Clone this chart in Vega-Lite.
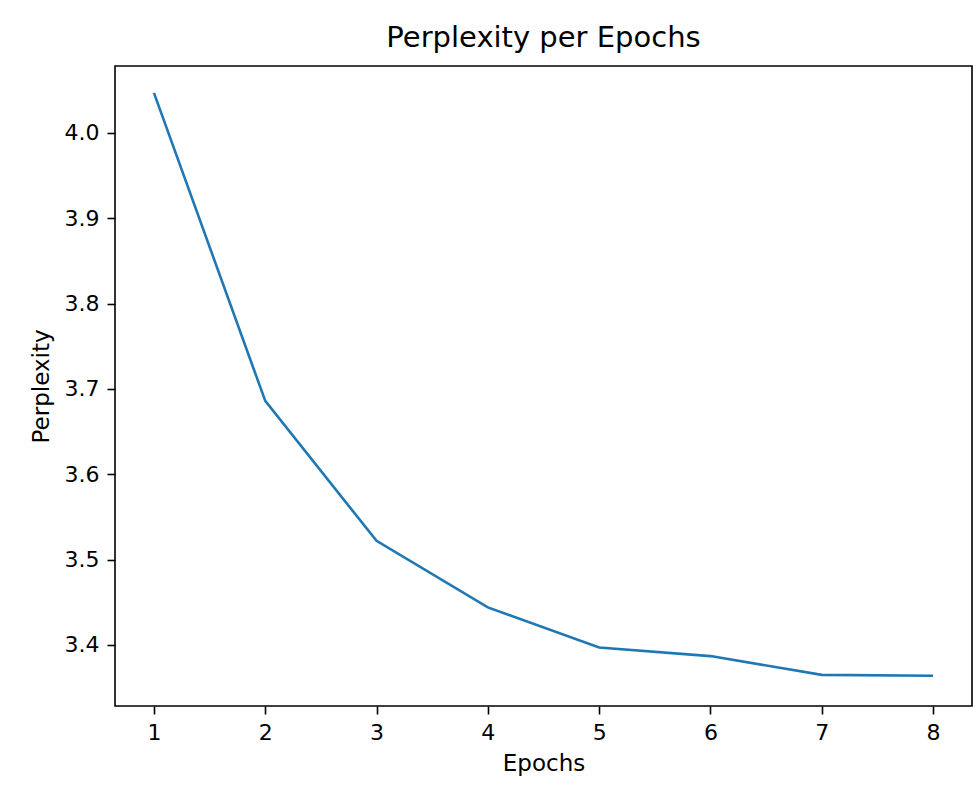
{
  "$schema": "https://vega.github.io/schema/vega-lite/v6.json",
  "autosize": "none",
  "width": 857,
  "height": 640,
  "padding": {"left": 115, "top": 66, "right": 5, "bottom": 85},
  "background": "white",
  "title": {
    "text": "Perplexity per Epochs",
    "font": "DejaVu Sans",
    "fontSize": 29,
    "fontWeight": "normal",
    "color": "#000000",
    "anchor": "middle",
    "baseline": "alphabetic",
    "offset": -10
  },
  "data": {
    "values": [
      {"Epochs": 1, "Perplexity": 4.047},
      {"Epochs": 2, "Perplexity": 3.686},
      {"Epochs": 3, "Perplexity": 3.522},
      {"Epochs": 4, "Perplexity": 3.444},
      {"Epochs": 5, "Perplexity": 3.397},
      {"Epochs": 6, "Perplexity": 3.387},
      {"Epochs": 7, "Perplexity": 3.365},
      {"Epochs": 8, "Perplexity": 3.364}
    ]
  },
  "mark": {"type": "line", "color": "#1f77b4", "strokeWidth": 2.6, "clip": true},
  "encoding": {
    "x": {
      "field": "Epochs",
      "type": "quantitative",
      "scale": {"domain": [0.65, 8.35], "nice": false, "zero": false},
      "axis": {"values": [1, 2, 3, 4, 5, 6, 7, 8], "format": "d", "title": "Epochs"}
    },
    "y": {
      "field": "Perplexity",
      "type": "quantitative",
      "scale": {"domain": [3.3285, 4.0785], "nice": false, "zero": false},
      "axis": {"values": [3.4, 3.5, 3.6, 3.7, 3.8, 3.9, 4.0], "format": ".1f", "title": "Perplexity"}
    }
  },
  "config": {
    "view": {"stroke": "#000000", "strokeWidth": 1.6},
    "axis": {
      "grid": false,
      "domain": false,
      "tickColor": "#000000",
      "tickWidth": 1.6,
      "tickSize": 8,
      "labelFont": "DejaVu Sans",
      "labelFontSize": 22,
      "labelColor": "#000000",
      "labelPadding": 8,
      "titleFont": "DejaVu Sans",
      "titleFontSize": 23,
      "titleFontWeight": "normal",
      "titleColor": "#000000"
    },
    "axisX": {"titlePadding": 9},
    "axisY": {"titlePadding": 11}
  }
}
